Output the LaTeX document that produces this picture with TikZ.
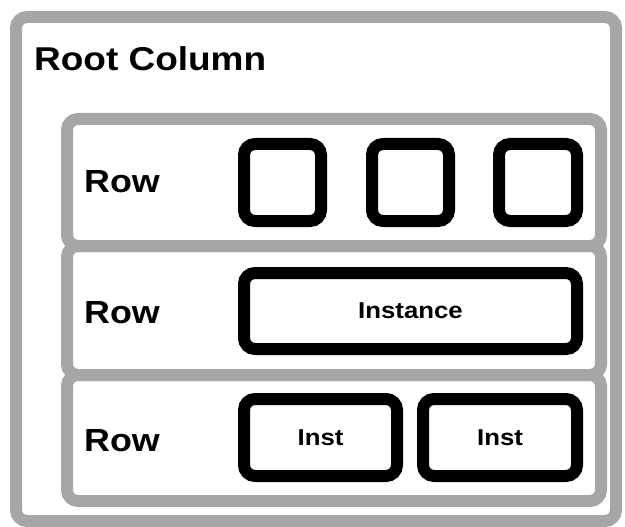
\documentclass[tikz,border=0pt]{standalone}
\usepackage{fontspec}
\setmainfont{Liberation Sans}[FakeStretch=1.12]
\begin{document}
\begin{tikzpicture}[x=1pt,y=-1pt,
  frame/.style={draw=framegray,line width=12pt,rounded corners=11pt,rectangle,inner sep=0pt},
  rowbox/.style={frame,minimum width=534pt},
  slot/.style={draw=black,line width=12pt,rounded corners=11pt,rectangle,inner sep=0pt,
    font=\bfseries\fontsize{23}{23}\selectfont},
  heading/.style={anchor=base west,inner sep=0pt,font=\bfseries\fontsize{33}{33}\selectfont},
  rowlabel/.style={anchor=base west,inner sep=0pt,font=\bfseries\fontsize{32}{32}\selectfont}]
\definecolor{framegray}{HTML}{A6A6A6}
\useasboundingbox (0,0) rectangle (625,527);
\fill[white] (0,0) rectangle (625,527);

% outer column frame
\node[frame,minimum width=600pt,minimum height=504pt] (root) at (316,269) {};
\node[heading] (title) at (34,71) {Root Column};

% three stacked rows
\node[rowbox,minimum height=127pt] (row1) at (334,182.5) {};
\node[rowbox,minimum height=129pt] (row2) at (334,310.5) {};
\node[rowbox,minimum height=126pt] (row3) at (334,438) {};

\node[rowlabel] (lab1) at (84,193) {Row};
\node[rowlabel] (lab2) at (84,323) {Row};
\node[rowlabel] (lab3) at (84,451) {Row};

% row 1: three empty slots
\node[slot,minimum width=77pt,minimum height=77pt] (sq1) at (282.5,182.5) {};
\node[slot,minimum width=77pt,minimum height=77pt] (sq2) at (410.5,182.5) {};
\node[slot,minimum width=78pt,minimum height=77pt] (sq3) at (538,182.5) {};

% row 2: one wide instance
\node[slot,minimum width=333pt,minimum height=76pt] (inst) at (410.5,311) {Instance};

% row 3: two instances
\node[slot,minimum width=153pt,minimum height=77pt] (instA) at (320.5,437.5) {Inst};
\node[slot,minimum width=154pt,minimum height=77pt] (instB) at (500,437.5) {Inst};
\end{tikzpicture}
\end{document}
